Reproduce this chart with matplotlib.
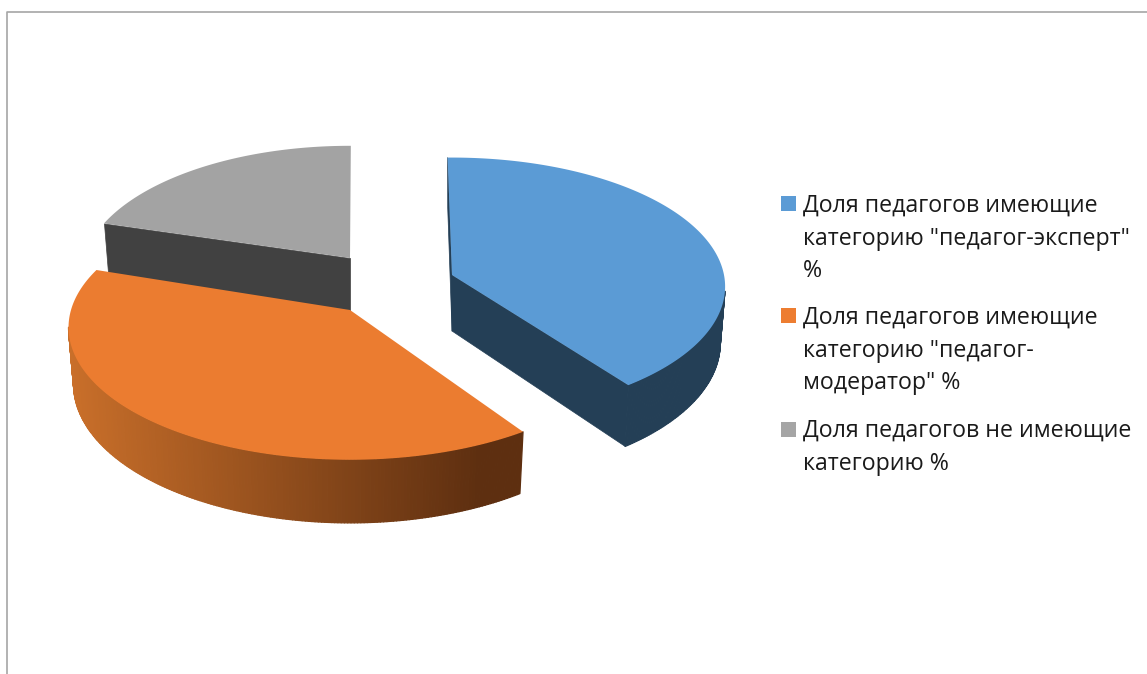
import numpy as np
import matplotlib
matplotlib.use('Agg')
import matplotlib.pyplot as plt
from matplotlib.collections import PolyCollection
from matplotlib.colors import to_rgb
from matplotlib.patches import Rectangle

# Chart data
labels = [
    ['Доля педагогов имеющие', 'категорию "педагог-эксперт"', '%'],
    ['Доля педагогов имеющие', 'категорию "педагог-', 'модератор" %'],
    ['Доля педагогов не имеющие', 'категорию %'],
]
values = [40, 39.5, 20.5]

# Styles
top_colors = ['#5B9BD5', '#EB7C30', '#A3A3A3']
side_colors = ['#243F56', '#C96F2A', '#414141']
rim_dark = '#5E2F10'
key_colors = ['#5B9BD5', '#ED7D31', '#A5A5A5']

# Layout, in pixels of the image
apex_x = [452, 350, 350]
apex_y = [275, 310, 258]
radius_x = [272, 279, 266]
radius_y = [128, 130, 127]
persp = [0.09, 0.132, 0.132]
angle_shift = [0, 3.5, 1.2]  # exploded slices look slightly turned
depth = 56
shrink = 0.982
start_angle = -1.0
draw_order = [2, 0, 1]
key_y = [196, 308, 422]
first_baseline = [212, 324, 437]
line_step = 32.7


def project(k, ang):
    # ang in degrees, clockwise from the top of the pie
    t = np.radians(ang)
    u = np.cos(t)
    s = 1 / (1 + persp[k] * u)
    x = apex_x[k] + radius_x[k] * np.sin(t) * s
    y = apex_y[k] - radius_y[k] * u * s
    return x, y


def lower(k, x, y):
    dy = depth * (1 - 0.11 * (apex_y[k] - y) / radius_y[k])
    return apex_x[k] + shrink * (x - apex_x[k]), y + dy


def quad(x0, y0, x1, y1, k):
    bx0, by0 = lower(k, x0, y0)
    bx1, by1 = lower(k, x1, y1)
    return [(x0, y0), (x1, y1), (bx1, by1), (bx0, by0)]


fig = plt.figure(figsize=(11.47, 6.74), dpi=100)
ax = fig.add_axes([0, 0, 1, 1])
ax.set_xlim(0, 1147)
ax.set_ylim(674, 0)
ax.axis('off')

# Frame of the chart, only top and left are in the picture
ax.plot([6.8, 6.8, 1147], [674, 11.8, 11.8], color='#A6A6A6', lw=1.2)

edges = start_angle + np.cumsum([0] + values) * 360.0 / sum(values)
z = 2
for k in draw_order:
    a0, a1 = edges[k] + angle_shift[k], edges[k + 1] + angle_shift[k]
    ang = np.linspace(a0, a1, 240)
    xs, ys = project(k, ang)
    ax_, ay_ = apex_x[k], apex_y[k]

    # Radial walls that can be seen
    if k == 0:
        walls = [quad(ax_, ay_, xs[0], ys[0], k), quad(ax_, ay_, xs[-1], ys[-1], k)]
    elif k == 2:
        walls = [quad(ax_, ay_, xs[0], ys[0], k)]
    else:
        walls = []
    if walls:
        ax.add_collection(PolyCollection(walls, facecolors=side_colors[k], edgecolors=side_colors[k],
                                         linewidths=0.5, zorder=z))

    # Outer rim, only the part facing us
    front = (ang > 97) & (ang < 263)
    fx, fy = xs[front], ys[front]
    if len(fx) > 1:
        quads = [quad(fx[i], fy[i], fx[i + 1], fy[i + 1], k) for i in range(len(fx) - 1)]
        if k == 1:
            # orange one has a gradient from left to right
            c0 = np.array(to_rgb(side_colors[1]))
            c1 = np.array(to_rgb(rim_dark))
            left, right = fx.min(), 480
            f = np.clip((fx[:-1] - left) / (right - left), 0, 1)[:, None]
            cols = c0 + (c1 - c0) * f
        else:
            cols = [to_rgb(side_colors[k])] * len(quads)
        ax.add_collection(PolyCollection(quads, facecolors=cols, edgecolors=cols,
                                         linewidths=0.9, zorder=z))

    # Top face
    ax.fill(np.r_[ax_, xs], np.r_[ay_, ys], color=top_colors[k], lw=0, zorder=z + 0.5)
    z += 1

# Legend
for k in range(len(labels)):
    ax.add_patch(Rectangle((781, key_y[k]), 15, 15, facecolor=key_colors[k], edgecolor='none', zorder=10))
    for j, line in enumerate(labels[k]):
        ax.text(803, first_baseline[k] + j * line_step, line, family='Open Sans', fontsize=16.65,
                color='#1A1A1A', va='baseline', ha='left', zorder=10)

fig.savefig('out.png', dpi=100, facecolor='white')
